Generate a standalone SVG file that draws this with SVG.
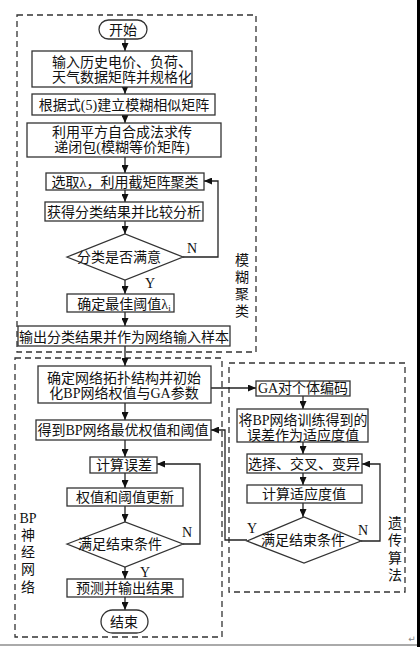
<svg xmlns="http://www.w3.org/2000/svg" width="420" height="647" viewBox="0 0 420 647">
<defs>
<marker id="ah" markerWidth="8" markerHeight="7" refX="8" refY="3.5" orient="auto" markerUnits="userSpaceOnUse">
<path d="M0,0 L8,3.5 L0,7 z" fill="#111"/>
</marker>
<style>
.b{fill:#fff;stroke:#333;stroke-width:1.3}
.d{fill:none;stroke:#333;stroke-width:1.3;stroke-dasharray:6,4}
.t{font-family:"Liberation Serif","Noto Sans CJK SC",serif;font-size:14px;fill:#111;text-anchor:middle}
.c{fill:none;stroke:#222;stroke-width:1.3}
.a{fill:none;stroke:#222;stroke-width:1.3;marker-end:url(#ah)}
</style>
</defs>
<rect width="420" height="647" fill="#fff"/>

<g id="regions">
<rect class="d" x="17" y="15" width="239" height="337"/>
<rect class="d" x="15" y="358" width="207" height="279"/>
<rect class="d" x="229" y="363" width="176" height="229"/>
<text class="t" x="242" y="265">模</text>
<text class="t" x="242" y="282">糊</text>
<text class="t" x="242" y="299">聚</text>
<text class="t" x="242" y="316">类</text>
<text class="t" x="28" y="523">BP</text>
<text class="t" x="28" y="540">神</text>
<text class="t" x="28" y="557">经</text>
<text class="t" x="28" y="574">网</text>
<text class="t" x="28" y="592">络</text>
<text class="t" x="395" y="528">遗</text>
<text class="t" x="395" y="545">传</text>
<text class="t" x="395" y="563">算</text>
<text class="t" x="395" y="580">法</text>
</g>

<g id="connectors">
<line class="a" x1="125" y1="39" x2="125" y2="51"/>
<line class="a" x1="125" y1="87" x2="125" y2="94"/>
<line class="a" x1="125" y1="115" x2="125" y2="123"/>
<line class="a" x1="125" y1="157" x2="125" y2="173"/>
<line class="a" x1="125" y1="190" x2="125" y2="202"/>
<line class="a" x1="125" y1="221" x2="125" y2="234"/>
<line class="a" x1="125" y1="280" x2="125" y2="294"/>
<line class="a" x1="125" y1="312" x2="125" y2="326"/>
<line class="a" x1="125" y1="346" x2="125" y2="366"/>
<polyline class="a" points="183,257 218,257 218,181 204,181"/>
<line class="a" x1="125" y1="403" x2="125" y2="420"/>
<line class="a" x1="125" y1="440" x2="125" y2="457"/>
<line class="a" x1="125" y1="473" x2="125" y2="488"/>
<line class="a" x1="125" y1="506" x2="125" y2="522"/>
<line class="a" x1="125" y1="567" x2="125" y2="579"/>
<line class="a" x1="125" y1="597" x2="125" y2="610"/>
<polyline class="a" points="183,544 200,544 200,464 157,464"/>
<line class="a" x1="211" y1="388" x2="256" y2="388"/>
<line class="a" x1="303" y1="396" x2="303" y2="409"/>
<line class="a" x1="303" y1="442" x2="303" y2="454"/>
<line class="a" x1="303" y1="473" x2="303" y2="485"/>
<line class="a" x1="303" y1="503" x2="303" y2="517"/>
<polyline class="a" points="361,541 380,541 380,464 362,464"/>
<polyline class="a" points="247,540 225,540 225,430 211,430"/>
<text class="t" x="192" y="253">N</text>
<text class="t" x="150" y="288">Y</text>
<text class="t" x="187" y="537">N</text>
<text class="t" x="145" y="577">Y</text>
<text class="t" x="363" y="535">N</text>
<text class="t" x="252" y="533">Y</text>
</g>

<g id="start"><rect class="b" x="99" y="20" width="48" height="19" rx="9.5"/><text class="t" x="123" y="35">开始</text></g>
<g id="n1"><rect class="b" x="32" y="51" width="160" height="36"/><text class="t" x="122" y="67">输入历史电价、负荷、</text><text class="t" x="122" y="82">天气数据矩阵并规格化</text></g>
<g id="n2"><rect class="b" x="32" y="94" width="183" height="21"/><text class="t" x="124" y="110">根据式(5)建立模糊相似矩阵</text></g>
<g id="n3"><rect class="b" x="27" y="123" width="194" height="34"/><text class="t" x="122" y="137">利用平方自合成法求传</text><text class="t" x="122" y="152">递闭包(模糊等价矩阵)</text></g>
<g id="n4"><rect class="b" x="46" y="173" width="158" height="17"/><text class="t" x="125" y="187">选取λ，利用截矩阵聚类</text></g>
<g id="n5"><rect class="b" x="45" y="202" width="158" height="19"/><text class="t" x="124" y="217">获得分类结果并比较分析</text></g>
<g id="n6"><polygon class="b" points="67,257 125,234 183,257 125,280"/><text class="t" x="119" y="262">分类是否满意</text></g>
<g id="n7"><rect class="b" x="67" y="294" width="107" height="18"/><text class="t" x="124" y="309">确定最佳阈值λ<tspan font-size="9" dy="2">i</tspan></text></g>
<g id="n8"><rect class="b" x="18" y="326" width="212" height="20"/><text class="t" x="124" y="342">输出分类结果并作为网络输入样本</text></g>

<g id="n9"><rect class="b" x="38" y="366" width="173" height="37"/><text class="t" x="124" y="383">确定网络拓扑结构并初始</text><text class="t" x="124" y="398">化BP网络权值与GA参数</text></g>
<g id="n10"><rect class="b" x="36" y="420" width="175" height="20"/><text class="t" x="123" y="435">得到BP网络最优权值和阈值</text></g>
<g id="n11"><rect class="b" x="90" y="457" width="67" height="16"/><text class="t" x="124" y="470">计算误差</text></g>
<g id="n12"><rect class="b" x="67" y="488" width="116" height="18"/><text class="t" x="125" y="502">权值和阈值更新</text></g>
<g id="n13"><polygon class="b" points="67,544 125,522 183,544 125,567"/><text class="t" x="120" y="549">满足结束条件</text></g>
<g id="n14"><rect class="b" x="67" y="579" width="116" height="18"/><text class="t" x="125" y="593">预测并输出结果</text></g>
<g id="end"><rect class="b" x="101" y="610" width="47" height="23" rx="11.5"/><text class="t" x="124" y="627">结束</text></g>

<g id="n15"><rect class="b" x="256" y="381" width="94" height="15"/><text class="t" x="303" y="393">GA对个体编码</text></g>
<g id="n16"><rect class="b" x="237" y="409" width="131" height="33"/><text class="t" x="303" y="425">将BP网络训练得到的</text><text class="t" x="303" y="440">误差作为适应度值</text></g>
<g id="n17"><rect class="b" x="247" y="454" width="115" height="19"/><text class="t" x="304" y="469">选择、交叉、变异</text></g>
<g id="n18"><rect class="b" x="247" y="485" width="115" height="18"/><text class="t" x="304" y="499">计算适应度值</text></g>
<g id="n19"><polygon class="b" points="247,541 304,517 361,541 304,563"/><text class="t" x="303" y="545">满足结束条件</text></g>

<g id="page">
<line x1="0" y1="645" x2="417" y2="645" stroke="#aaa" stroke-width="2"/>
<rect x="417" y="0" width="3" height="647" fill="#000"/>
<text x="412" y="642" font-family="DejaVu Sans,sans-serif" font-size="9" fill="#888" text-anchor="middle">↵</text>
</g>
</svg>
